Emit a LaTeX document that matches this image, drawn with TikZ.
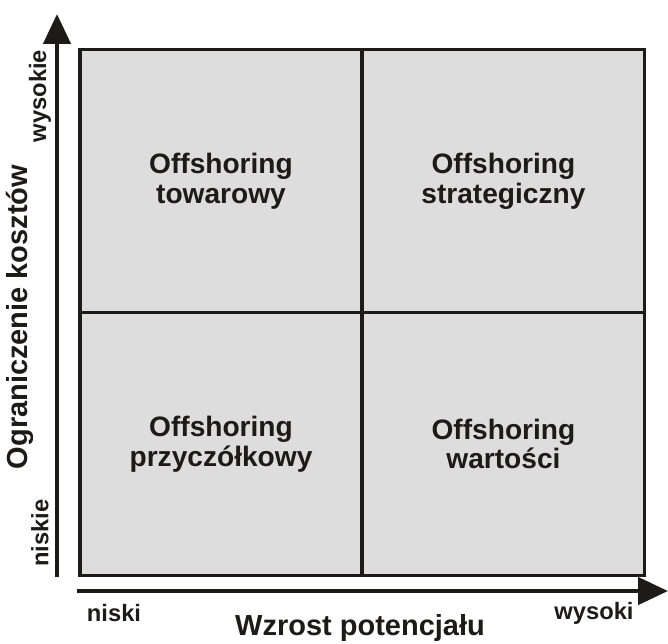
\documentclass[tikz,border=0pt]{standalone}
\usepackage{fontspec}
\setmainfont{Liberation Sans}
\usepackage{xcolor}
\usepackage{tikz}
\usetikzlibrary{
    positioning,
    arrows.meta
}
\definecolor{cellgray}{RGB}{221,221,221}
\definecolor{inkblack}{RGB}{30,26,26}
\tikzset{
    cell/.style={
        rectangle, draw=inkblack, line width=2pt, fill=cellgray,
        minimum width=5.65cm, minimum height=5.26cm, outer sep=0pt,
        align=center, text=inkblack,
        font=\bfseries\fontsize{16}{17}\selectfont
    },
    axisarrow/.style={
        -{Triangle[length=0.6cm, width=0.54cm]}, line width=2.6pt, draw=inkblack
    },
    axistitle/.style={
        font=\bfseries\fontsize{16.5}{18}\selectfont, text=inkblack
    },
    ticklabel/.style={
        font=\bfseries\fontsize{13.5}{15}\selectfont, text=inkblack
    }
}

\begin{document}
\begin{tikzpicture}[x=0.02cm, y=-0.02cm, node distance=0pt]
    \useasboundingbox (0,0) rectangle (668,643);

    % 2x2 grid of quadrants
    \node[cell] (top_left) at (221,181) {Offshoring\\towarowy};
    \node[cell, right=of top_left] (top_right) {Offshoring\\strategiczny};
    \node[cell, below=of top_left] (bottom_left) {Offshoring\\przyczółkowy};
    \node[cell, below=of top_right] (bottom_right) {Offshoring\\wartości};

    % axes
    \coordinate (yorigin) at (57,577);
    \coordinate (ytip) at (57,14);
    \coordinate (xorigin) at (77,591);
    \coordinate (xtip) at (668,591);
    \draw[axisarrow] (yorigin) -- (ytip);
    \draw[axisarrow] (xorigin) -- (xtip);

    \node[ticklabel, rotate=90] (ylow) at (40,533) {niskie};
    \node[ticklabel, rotate=90] (yhigh) at (40,96) {wysokie};
    \node[axistitle, rotate=90] (ytitle) at (20,317) {Ograniczenie kosztów};

    \node[ticklabel] (xlow) at (114,613) {niski};
    \node[ticklabel] (xhigh) at (594,613) {wysoki};
    \node[axistitle] (xtitle) at (360,628) {Wzrost potencjału};

\end{tikzpicture}
\end{document}
